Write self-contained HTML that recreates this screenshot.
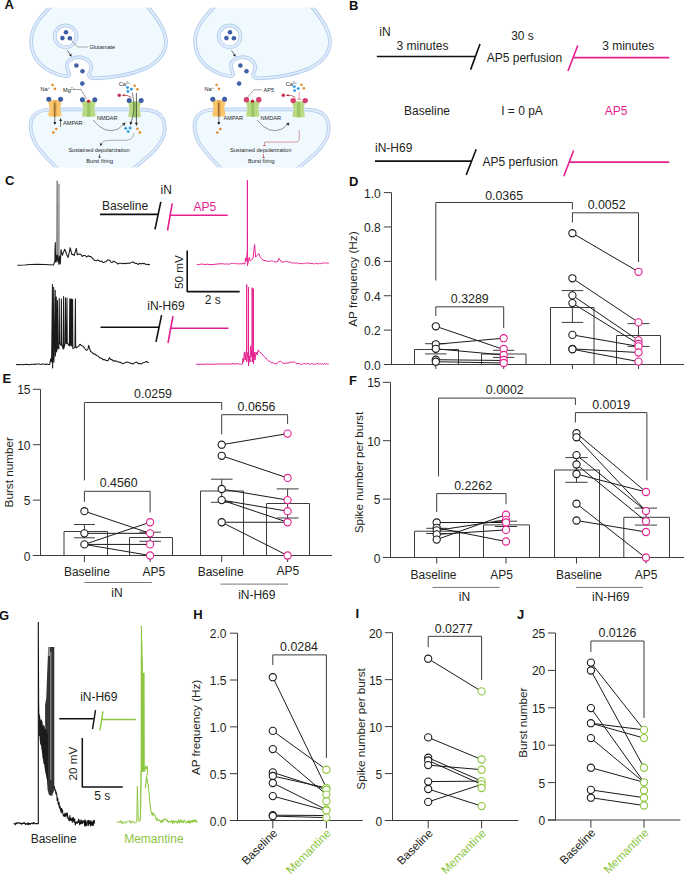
<!DOCTYPE html>
<html><head><meta charset="utf-8"><title>Figure</title>
<style>
html,body{margin:0;padding:0;background:#fff;width:685px;height:880px;overflow:hidden;}
svg{display:block;font-family:"Liberation Sans",sans-serif;}
</style></head><body>
<svg width="685" height="880" viewBox="0 0 685 880">
<text x="4.5" y="8.6" font-size="13" text-anchor="start" fill="#111" font-weight="bold">A</text>
<text x="348.9" y="10.4" font-size="13" text-anchor="start" fill="#111" font-weight="bold">B</text>
<text x="4.9" y="185.3" font-size="13" text-anchor="start" fill="#111" font-weight="bold">C</text>
<text x="349.1" y="185.6" font-size="13" text-anchor="start" fill="#111" font-weight="bold">D</text>
<text x="2.6" y="383.4" font-size="13" text-anchor="start" fill="#111" font-weight="bold">E</text>
<text x="349.1" y="384.9" font-size="13" text-anchor="start" fill="#111" font-weight="bold">F</text>
<text x="-1" y="619.7" font-size="13" text-anchor="start" fill="#111" font-weight="bold">G</text>
<text x="193.3" y="618.8" font-size="13" text-anchor="start" fill="#111" font-weight="bold">H</text>
<text x="355.5" y="618" font-size="13" text-anchor="start" fill="#111" font-weight="bold">I</text>
<text x="517" y="619.2" font-size="13" text-anchor="start" fill="#111" font-weight="bold">J</text>
<path d="M 59 -2 C 50 8, 31.5 22, 31.1 40 C 30.9 52, 37 62, 45 68 C 51 72, 58 75, 64.7 76 C 69 76.7, 70 75, 68.5 71.5 C 66 67, 66.5 62, 70.5 59.5 C 75 56.2, 83 56.2, 87.5 60 C 92 63.5, 92 69, 89.5 73 C 88 76, 89.5 78.3, 95 78.3 C 110 77.8, 130 75, 144 69 C 158 63, 166 53, 166 42 C 166 27, 151 11, 141 -2 Z" transform="translate(0,0)" fill="#f0f9fe" stroke="#b2cef0" stroke-width="3.7"/>
<path d="M 59 -2 C 50 8, 31.5 22, 31.1 40 C 30.9 52, 37 62, 45 68 C 51 72, 58 75, 64.7 76 C 69 76.7, 70 75, 68.5 71.5 C 66 67, 66.5 62, 70.5 59.5 C 75 56.2, 83 56.2, 87.5 60 C 92 63.5, 92 69, 89.5 73 C 88 76, 89.5 78.3, 95 78.3 C 110 77.8, 130 75, 144 69 C 158 63, 166 53, 166 42 C 166 27, 151 11, 141 -2 Z" transform="translate(0,0)" fill="none" stroke="#e2edf9" stroke-width="1.9"/>
<circle cx="65.6" cy="36.3" r="10.9" fill="#fff" stroke="#b2cef0" stroke-width="3.7"/>
<circle cx="65.6" cy="36.3" r="10.9" fill="none" stroke="#e2edf9" stroke-width="1.9"/>
<circle cx="66" cy="32.3" r="2.3" fill="#3e5ea6"/>
<circle cx="62.4" cy="38.1" r="2.3" fill="#3e5ea6"/>
<circle cx="69.9" cy="38.2" r="2.3" fill="#3e5ea6"/>
<circle cx="76.4" cy="65.5" r="2.3" fill="#4262a8"/>
<circle cx="82.5" cy="71.3" r="2.3" fill="#4262a8"/>
<circle cx="82.3" cy="83.6" r="2.3" fill="#4262a8"/>
<path d="M 67.5 50.5 L 70.5 55" stroke="#333" stroke-width="0.7"/>
<path d="M 69 55.8 L 71.8 56.5 L 71.2 53.6 Z" fill="#333"/>
<path d="M 60.5 172 C 52 163, 40 152, 35.5 143.5 C 31 135, 29.6 126, 31.3 120 C 33 115, 37 111.2, 45 110 C 52 109.4, 60 109.4, 70 109.4 L 135 109.4 C 148 109.4, 156 110.5, 160.5 115.5 C 164.5 120, 165 127, 164.6 131 C 164 140, 158 147, 151 153.8 C 145 159, 140 163, 130 172 Z" transform="translate(0,0)" fill="#f0f9fe" stroke="#b2cef0" stroke-width="3.7"/>
<path d="M 60.5 172 C 52 163, 40 152, 35.5 143.5 C 31 135, 29.6 126, 31.3 120 C 33 115, 37 111.2, 45 110 C 52 109.4, 60 109.4, 70 109.4 L 135 109.4 C 148 109.4, 156 110.5, 160.5 115.5 C 164.5 120, 165 127, 164.6 131 C 164 140, 158 147, 151 153.8 C 145 159, 140 163, 130 172 Z" transform="translate(0,0)" fill="none" stroke="#e2edf9" stroke-width="1.9"/>
<path d="M 59 -2 C 50 8, 31.5 22, 31.1 40 C 30.9 52, 37 62, 45 68 C 51 72, 58 75, 64.7 76 C 69 76.7, 70 75, 68.5 71.5 C 66 67, 66.5 62, 70.5 59.5 C 75 56.2, 83 56.2, 87.5 60 C 92 63.5, 92 69, 89.5 73 C 88 76, 89.5 78.3, 95 78.3 C 110 77.8, 130 75, 144 69 C 158 63, 166 53, 166 42 C 166 27, 151 11, 141 -2 Z" transform="translate(164,0)" fill="#f0f9fe" stroke="#b2cef0" stroke-width="3.7"/>
<path d="M 59 -2 C 50 8, 31.5 22, 31.1 40 C 30.9 52, 37 62, 45 68 C 51 72, 58 75, 64.7 76 C 69 76.7, 70 75, 68.5 71.5 C 66 67, 66.5 62, 70.5 59.5 C 75 56.2, 83 56.2, 87.5 60 C 92 63.5, 92 69, 89.5 73 C 88 76, 89.5 78.3, 95 78.3 C 110 77.8, 130 75, 144 69 C 158 63, 166 53, 166 42 C 166 27, 151 11, 141 -2 Z" transform="translate(164,0)" fill="none" stroke="#e2edf9" stroke-width="1.9"/>
<circle cx="229.6" cy="36.3" r="10.9" fill="#fff" stroke="#b2cef0" stroke-width="3.7"/>
<circle cx="229.6" cy="36.3" r="10.9" fill="none" stroke="#e2edf9" stroke-width="1.9"/>
<circle cx="230" cy="32.3" r="2.3" fill="#3e5ea6"/>
<circle cx="226.4" cy="38.1" r="2.3" fill="#3e5ea6"/>
<circle cx="233.9" cy="38.2" r="2.3" fill="#3e5ea6"/>
<circle cx="240.4" cy="65.5" r="2.3" fill="#4262a8"/>
<circle cx="246.5" cy="71.3" r="2.3" fill="#4262a8"/>
<circle cx="239.1" cy="83.6" r="2.3" fill="#4262a8"/>
<path d="M 231.5 50.5 L 234.5 55" stroke="#333" stroke-width="0.7"/>
<path d="M 233 55.8 L 235.8 56.5 L 235.2 53.6 Z" fill="#333"/>
<path d="M 60.5 172 C 52 163, 40 152, 35.5 143.5 C 31 135, 29.6 126, 31.3 120 C 33 115, 37 111.2, 45 110 C 52 109.4, 60 109.4, 70 109.4 L 135 109.4 C 148 109.4, 156 110.5, 160.5 115.5 C 164.5 120, 165 127, 164.6 131 C 164 140, 158 147, 151 153.8 C 145 159, 140 163, 130 172 Z" transform="translate(164,0)" fill="#f0f9fe" stroke="#b2cef0" stroke-width="3.7"/>
<path d="M 60.5 172 C 52 163, 40 152, 35.5 143.5 C 31 135, 29.6 126, 31.3 120 C 33 115, 37 111.2, 45 110 C 52 109.4, 60 109.4, 70 109.4 L 135 109.4 C 148 109.4, 156 110.5, 160.5 115.5 C 164.5 120, 165 127, 164.6 131 C 164 140, 158 147, 151 153.8 C 145 159, 140 163, 130 172 Z" transform="translate(164,0)" fill="none" stroke="#e2edf9" stroke-width="1.9"/>
<rect x="18" y="-1" width="322" height="8.6" fill="#fff"/>
<rect x="0" y="167.5" width="340" height="8" fill="#fff"/>
<path d="M 49.5 100.3 Q 48.3 100.3 48.3 102.3 L 49.7 108.4 L 48.3 114.5 Q 48.3 116.5 49.5 116.5 L 60.3 116.5 Q 61.5 116.5 61.5 114.5 L 60.1 108.4 L 61.5 102.3 Q 61.5 100.3 60.3 100.3 Z" fill="#f8c66c"/>
<rect x="53.2" y="100.3" width="3.4" height="16.2" fill="#eaa64a"/>
<path d="M 83.2 100.8 Q 82 100.8 82 102.8 L 83.4 108.8 L 82 114.8 Q 82 116.8 83.2 116.8 L 94.4 116.8 Q 95.6 116.8 95.6 114.8 L 94.2 108.8 L 95.6 102.8 Q 95.6 100.8 94.4 100.8 Z" fill="#bddb88"/>
<rect x="87" y="101.8" width="3.6" height="15" fill="#9cc765"/>
<rect x="84.6" y="102.8" width="0.6" height="12" fill="#a9d072"/>
<rect x="92.4" y="102.8" width="0.6" height="12" fill="#a9d072"/>
<path d="M 129.5 101.2 Q 128.3 101.2 128.3 103.2 L 129.7 109.2 L 128.3 115.2 Q 128.3 117.2 129.5 117.2 L 139.7 117.2 Q 140.9 117.2 140.9 115.2 L 139.5 109.2 L 140.9 103.2 Q 140.9 101.2 139.7 101.2 Z" fill="#bddb88"/>
<rect x="132.8" y="102.2" width="3.6" height="15" fill="#9cc765"/>
<rect x="130.4" y="103.2" width="0.6" height="12" fill="#a9d072"/>
<rect x="138.2" y="103.2" width="0.6" height="12" fill="#a9d072"/>
<circle cx="48.8" cy="99.3" r="2.5" fill="#3e5ea6"/>
<circle cx="60.6" cy="99.3" r="2.5" fill="#3e5ea6"/>
<circle cx="82.4" cy="99.8" r="2.5" fill="#3e5ea6"/>
<circle cx="94.8" cy="99.8" r="2.5" fill="#3e5ea6"/>
<circle cx="129.2" cy="100.6" r="2.5" fill="#3e5ea6"/>
<circle cx="141.2" cy="100.6" r="2.5" fill="#3e5ea6"/>
<circle cx="88.5" cy="101.2" r="1.6" fill="#c8203a"/>
<circle cx="52.6" cy="85" r="1.3" fill="#e08a2a"/>
<circle cx="54.9" cy="88.7" r="1.3" fill="#e08a2a"/>
<circle cx="127.5" cy="87.5" r="1.45" fill="#2f9ee0"/>
<circle cx="131.3" cy="89.3" r="1.45" fill="#2f9ee0"/>
<circle cx="127.9" cy="91.5" r="1.45" fill="#2f9ee0"/>
<circle cx="134.7" cy="85.7" r="1.3" fill="#e08a2a"/>
<circle cx="137.4" cy="89.3" r="1.3" fill="#e08a2a"/>
<circle cx="119.3" cy="95.3" r="2.3" fill="#f4c9cf"/>
<circle cx="119.3" cy="95.3" r="1.5" fill="#c0284a"/>
<path d="M 122.5 95.3 Q 127 94.5 131.5 97.5" stroke="#a02030" stroke-width="0.7" fill="none"/>
<path d="M 122.3 95.3 L 124.6 94 L 124.4 96.6 Z" fill="#a02030"/>
<text x="40.5" y="90.5" font-size="5.6" text-anchor="start" fill="#1e1e1e">Na<tspan font-size="3.5" dy="-2">+</tspan></text>
<text x="63" y="91.5" font-size="5.6" text-anchor="start" fill="#1e1e1e">Mg<tspan font-size="3.5" dy="-2">2+</tspan></text>
<path d="M 73 89.5 L 81 89.5 L 86.5 99" stroke="#444" stroke-width="0.5" fill="none"/>
<text x="118.8" y="85.8" font-size="5.6" text-anchor="start" fill="#1e1e1e">Ca<tspan font-size="3.5" dy="-2">2+</tspan></text>
<text x="63" y="124.9" font-size="5.6" text-anchor="start" fill="#1e1e1e">AMPAR</text>
<text x="97" y="120" font-size="5.6" text-anchor="start" fill="#1e1e1e">NMDAR</text>
<text x="68.4" y="152.2" font-size="5.6" text-anchor="start" fill="#1e1e1e">Sustained depolarization</text>
<text x="86.3" y="162.7" font-size="5.6" text-anchor="start" fill="#1e1e1e">Burst firing</text>
<path d="M 54.8 103 L 54.8 124" stroke="#222" stroke-width="0.6"/>
<path d="M 53.3 122 L 56.3 122 L 54.8 125 Z" fill="#222"/>
<circle cx="56.3" cy="129" r="1.3" fill="#e08a2a"/>
<circle cx="53.4" cy="132.5" r="1.3" fill="#e08a2a"/>
<path d="M 60.6 127 L 60.6 119.5" stroke="#222" stroke-width="0.6"/>
<path d="M 59.2 121 L 62 121 L 60.6 118.3 Z" fill="#222"/>
<path d="M 93 120 Q 105 135 118 129 L 124 124" stroke="#333" stroke-width="0.5" fill="none"/>
<path d="M 122 123.5 L 125.5 122.5 L 124.5 126 Z" fill="#333"/>
<path d="M 132.3 92.5 Q 134.5 102 133.8 110 Q 133 117 131.2 122.5" stroke="#333" stroke-width="0.6" fill="none"/>
<path d="M 136.4 93 L 136.4 123.5" stroke="#222" stroke-width="0.7"/>
<path d="M 129.6 121.6 L 132.6 122.8 L 130.3 125 Z" fill="#222"/>
<path d="M 134.9 122.8 L 137.9 122.8 L 136.4 126 Z" fill="#222"/>
<circle cx="125.7" cy="128.4" r="1.45" fill="#2f9ee0"/>
<circle cx="130.1" cy="128" r="1.45" fill="#2f9ee0"/>
<circle cx="128.2" cy="131.6" r="1.45" fill="#2f9ee0"/>
<circle cx="137.4" cy="128.7" r="1.3" fill="#e08a2a"/>
<circle cx="139.9" cy="132.4" r="1.3" fill="#e08a2a"/>
<path d="M 134 133 Q 133 140 126 140.3 L 110 140.3 Q 103 140.5 101.2 143.5" stroke="#666" stroke-width="0.5" fill="none"/>
<path d="M 99.6 143.2 L 102.6 143.8 L 100.6 146.2 Z" fill="#333"/>
<path d="M 99.5 154 L 99.5 157.5" stroke="#333" stroke-width="0.6"/>
<path d="M 98.2 156.5 L 100.8 156.5 L 99.5 158.5 Z" fill="#333"/>
<path d="M 213.5 100.3 Q 212.3 100.3 212.3 102.3 L 213.7 108.4 L 212.3 114.5 Q 212.3 116.5 213.5 116.5 L 224.3 116.5 Q 225.5 116.5 225.5 114.5 L 224.1 108.4 L 225.5 102.3 Q 225.5 100.3 224.3 100.3 Z" fill="#f8c66c"/>
<rect x="217.2" y="100.3" width="3.4" height="16.2" fill="#eaa64a"/>
<path d="M 247.2 100.8 Q 246 100.8 246 102.8 L 247.4 108.8 L 246 114.8 Q 246 116.8 247.2 116.8 L 258.4 116.8 Q 259.6 116.8 259.6 114.8 L 258.2 108.8 L 259.6 102.8 Q 259.6 100.8 258.4 100.8 Z" fill="#bddb88"/>
<rect x="251" y="101.8" width="3.6" height="15" fill="#9cc765"/>
<rect x="248.6" y="102.8" width="0.6" height="12" fill="#a9d072"/>
<rect x="256.4" y="102.8" width="0.6" height="12" fill="#a9d072"/>
<path d="M 293.5 101.2 Q 292.3 101.2 292.3 103.2 L 293.7 109.2 L 292.3 115.2 Q 292.3 117.2 293.5 117.2 L 303.7 117.2 Q 304.9 117.2 304.9 115.2 L 303.5 109.2 L 304.9 103.2 Q 304.9 101.2 303.7 101.2 Z" fill="#bddb88"/>
<rect x="296.8" y="102.2" width="3.6" height="15" fill="#9cc765"/>
<rect x="294.4" y="103.2" width="0.6" height="12" fill="#a9d072"/>
<rect x="302.2" y="103.2" width="0.6" height="12" fill="#a9d072"/>
<circle cx="212.8" cy="99.3" r="2.5" fill="#3e5ea6"/>
<circle cx="224.6" cy="99.3" r="2.5" fill="#3e5ea6"/>
<circle cx="246.4" cy="99.8" r="2.7" fill="#d6406f"/>
<circle cx="258.8" cy="99.8" r="2.7" fill="#d6406f"/>
<circle cx="293.2" cy="100.6" r="2.7" fill="#d6406f"/>
<circle cx="305.2" cy="100.6" r="2.7" fill="#d6406f"/>
<circle cx="252.5" cy="101.2" r="1.6" fill="#c8203a"/>
<circle cx="216.6" cy="85" r="1.3" fill="#e08a2a"/>
<circle cx="218.9" cy="88.7" r="1.3" fill="#e08a2a"/>
<circle cx="294.3" cy="86.6" r="1.45" fill="#2f9ee0"/>
<circle cx="298.2" cy="88.6" r="1.45" fill="#2f9ee0"/>
<circle cx="294.6" cy="90.6" r="1.45" fill="#2f9ee0"/>
<circle cx="301.4" cy="84.7" r="1.3" fill="#e08a2a"/>
<circle cx="303.9" cy="88.2" r="1.3" fill="#e08a2a"/>
<circle cx="283.3" cy="95.3" r="2.3" fill="#f4c9cf"/>
<circle cx="283.3" cy="95.3" r="1.5" fill="#c0284a"/>
<path d="M 286.5 95.3 Q 291 94.5 295.5 97.5" stroke="#a02030" stroke-width="0.7" fill="none"/>
<path d="M 286.3 95.3 L 288.6 94 L 288.4 96.6 Z" fill="#a02030"/>
<text x="204.5" y="90.5" font-size="5.6" text-anchor="start" fill="#1e1e1e">Na<tspan font-size="3.5" dy="-2">+</tspan></text>
<text x="263.5" y="91.8" font-size="5.6" text-anchor="start" fill="#1e1e1e">AP5</text>
<path d="M 262 89.8 L 254 89.8 L 246.5 98.5" stroke="#444" stroke-width="0.5" fill="none"/>
<text x="285.7" y="85.8" font-size="5.6" text-anchor="start" fill="#1e1e1e">Ca<tspan font-size="3.5" dy="-2">2+</tspan></text>
<text x="223.5" y="120" font-size="5.6" text-anchor="start" fill="#1e1e1e">AMPAR</text>
<text x="260.5" y="120" font-size="5.6" text-anchor="start" fill="#1e1e1e">NMDAR</text>
<text x="230" y="152.2" font-size="5.6" text-anchor="start" fill="#1e1e1e">Sustained depolarization</text>
<text x="248" y="162.7" font-size="5.6" text-anchor="start" fill="#1e1e1e">Burst firing</text>
<path d="M 218.8 103 L 218.8 124" stroke="#222" stroke-width="0.6"/>
<path d="M 217.3 122 L 220.3 122 L 218.8 125 Z" fill="#222"/>
<circle cx="220.3" cy="129" r="1.3" fill="#e08a2a"/>
<circle cx="217.4" cy="132.5" r="1.3" fill="#e08a2a"/>
<path d="M 257 120 Q 269 135 282 129 L 288 124" stroke="#333" stroke-width="0.5" fill="none"/>
<path d="M 286 123.5 L 289.5 122.5 L 288.5 126 Z" fill="#333"/>
<path d="M 299.2 91.9 L 299.2 99.2" stroke="#c04050" stroke-width="0.5"/>
<path d="M 297.2 99.2 L 301.2 99.2" stroke="#c04050" stroke-width="0.6"/>
<path d="M 299.3 130 L 299.3 138.5 Q 299.3 142.1 295 142.1 L 264.5 142.1 L 264.5 145.5" stroke="#c05060" stroke-width="0.55" fill="none"/>
<path d="M 263 145.5 L 266 145.5" stroke="#b0203a" stroke-width="0.6"/>
<path d="M 263.5 154 L 263.5 157.5 M 262 157.5 L 265 157.5" stroke="#b0203a" stroke-width="0.6"/>
<path d="M 70 38.5 L 77.5 47 L 88 47" stroke="#777" stroke-width="0.6" fill="none"/>
<text x="89.4" y="49" font-size="5.6" text-anchor="start" fill="#1e1e1e">Glutamate</text>
<text x="379.3" y="35.5" font-size="12" text-anchor="start" fill="#231f20">iN</text>
<text x="422.5" y="50" font-size="12" text-anchor="middle" fill="#231f20">3 minutes</text>
<line x1="376.8" y1="56.5" x2="475.3" y2="56.5" stroke="#111" stroke-width="1.7"/>
<line x1="480" y1="44" x2="470.6" y2="69.6" stroke="#111" stroke-width="1.6"/>
<text x="522.5" y="40" font-size="12" text-anchor="middle" fill="#231f20">30 s</text>
<text x="524.4" y="62.2" font-size="12" text-anchor="middle" fill="#231f20">AP5 perfusion</text>
<line x1="577.8" y1="45.5" x2="568" y2="71" stroke="#e61f8f" stroke-width="1.6"/>
<line x1="573" y1="57.6" x2="669.2" y2="57.6" stroke="#e61f8f" stroke-width="1.7"/>
<text x="628.2" y="50" font-size="12" text-anchor="middle" fill="#231f20">3 minutes</text>
<text x="427" y="115" font-size="12" text-anchor="middle" fill="#231f20">Baseline</text>
<text x="522" y="115" font-size="12" text-anchor="middle" fill="#231f20">I = 0 pA</text>
<text x="616" y="115" font-size="12" text-anchor="middle" fill="#e61f8f">AP5</text>
<text x="375" y="151.5" font-size="12" text-anchor="start" fill="#231f20">iN-H69</text>
<line x1="375" y1="161.2" x2="471.5" y2="161.2" stroke="#111" stroke-width="1.7"/>
<line x1="476.2" y1="149.3" x2="466.2" y2="175" stroke="#111" stroke-width="1.6"/>
<text x="520.3" y="166.2" font-size="12" text-anchor="middle" fill="#231f20">AP5 perfusion</text>
<line x1="573.6" y1="150.5" x2="563.8" y2="176.2" stroke="#e61f8f" stroke-width="1.6"/>
<line x1="568.8" y1="162.2" x2="669.2" y2="162.2" stroke="#e61f8f" stroke-width="1.7"/>
<text x="102.1" y="209.7" font-size="12" text-anchor="start" fill="#231f20">Baseline</text>
<line x1="100" y1="214.4" x2="158" y2="214.4" stroke="#111" stroke-width="1.6"/>
<line x1="160.8" y1="201.8" x2="155" y2="229.3" stroke="#111" stroke-width="1.6"/>
<text x="160.5" y="194.1" font-size="12" text-anchor="start" fill="#231f20">iN</text>
<line x1="172.2" y1="203.3" x2="167.5" y2="230.5" stroke="#e61f8f" stroke-width="1.6"/>
<line x1="169.8" y1="215.2" x2="227.7" y2="215.2" stroke="#e61f8f" stroke-width="1.6"/>
<text x="204.8" y="210.8" font-size="12" text-anchor="middle" fill="#e61f8f">AP5</text>
<text x="184.6" y="309.6" font-size="12" text-anchor="end" fill="#231f20">iN-H69</text>
<line x1="100.5" y1="327.2" x2="159" y2="327.2" stroke="#111" stroke-width="1.6"/>
<line x1="161.6" y1="315.2" x2="156" y2="341.8" stroke="#111" stroke-width="1.6"/>
<line x1="173" y1="316" x2="168" y2="343" stroke="#e61f8f" stroke-width="1.6"/>
<line x1="170.5" y1="328.3" x2="228.5" y2="328.3" stroke="#e61f8f" stroke-width="1.6"/>
<polyline points="187.2,250.4 187.2,291.6 239.7,291.6" fill="none" stroke="#111" stroke-width="1.6" stroke-linejoin="round"/>
<text x="212.8" y="304.2" font-size="12" text-anchor="middle" fill="#231f20">2 s</text>
<text transform="translate(182.5,272.2) rotate(-90)" font-size="11.7" text-anchor="middle" fill="#231f20">50 mV</text>
<polygon points="56.2,258 56.5,180.2 57.9,181 57.9,262" fill="#7a7a7a"/>
<polygon points="58.2,262 58.4,183.4 59.6,184 59.5,264" fill="#7a7a7a"/>
<polyline points="17.4,265.2 25,265 30,264.6 37.5,264.2 45,264.6 53.4,265 54.9,261 55,250 55.3,242.5 55.6,262 56.3,255 57,262 57.6,255 58.3,258 58.9,264.5 59.6,256 60.3,264 61,249.7 62.4,255.4 63.55,252.14 64.7,249.3 65.6,251.23 66.5,254 68.1,257.5 69.15,252.78 70.2,247.7 71.8,254.4 72.63,254.22 73.47,255.11 74.3,255.4 75.3,251.69 76.3,248.3 77.3,254.8 78.2,254 79.1,254.28 80,254 80.8,254.28 81.6,255.59 82.4,256.5 83.45,255.48 84.5,255.5 85.5,255.76 86.5,257 87.5,256.31 88.5,255.8 89.55,256.54 90.6,256.5 91.55,257.05 92.5,258.5 93.6,259.17 94.7,260.5 95.63,260.49 96.57,260.7 97.5,260 98.33,260.39 99.15,260.48 99.97,261.47 100.8,261.2 101.83,261.12 102.87,262.56 103.9,262.6 104.95,261.8 106,261.5 107,260.57 108,260.04 109,260 110,260.64 111,262.11 112,262.6 113.05,261.52 114.1,261.2 114.92,261.86 115.74,262.49 116.56,262.73 117.38,263.5 118.2,264 119.15,263.35 120.1,263.22 121.05,263.27 122,263.5 122.85,263.74 123.7,263.46 124.55,263.35 125.4,263.6 126.3,263.6 127.2,263.34 128.1,263.06 129,263.2 129.82,263.31 130.64,262.96 131.46,262.17 132.28,262.33 133.1,262 134,262.43 134.9,263.25 135.8,263.48 136.7,263.35 137.6,264 138.48,264.48 139.36,263.34 140.24,263.6 141.12,263.91 142,263.5 142.8,263.22 143.6,263.77 144.4,263.37 145.2,264.26 146,264.2 146.97,264.52 147.95,264.29 148.93,264.65 149.9,264.2" fill="none" stroke="#1a1a1a" stroke-width="1.05" stroke-linejoin="round"/>
<polyline points="16,364.6 17,364.46 18,364.71 19,364.62 20,364.6 21,364.5 22,364.75 23,364.81 24,364.47 25,364.59 26,364.15 27,364.58 28,364.53 29,364.76 30,364.4 31,364.61 32,364.21 33,364.26 34,364.44 35,363.97 36,364.25 37,364.03 38,363.97 39,363.91 40,364.2 41.08,364.41 42.16,363.98 43.23,364.09 44.31,364.21 45.39,364.57 46.47,364.04 47.54,364.32 48.62,364.41 49.7,364.4 50.8,358.7 51.6,362 52.3,300 52.4,284.6 52.6,367.9 53.2,345 53.6,300 53.7,287.2 53.9,362 54.6,340 55.1,310 55.2,290.2 55.4,356 56,335 56.2,310 56.3,296.9 56.5,352 57.05,349.07 57.5,300.5 57.75,347.55 58.85,348.91 59.3,298.4 59.55,343.23 60.95,345.32 61.4,298.9 61.65,343.87 63.15,349.07 63.6,296.4 63.85,348.66 65.05,343.21 65.5,297.9 65.75,342.41 66.55,343.86 67,297.9 67.25,342.87 69.35,345.88 69.8,298.9 70.05,345.71 70.35,344.1 70.8,299 71.05,341.03 71.35,345.35 71.8,298.9 72.05,343.95 72.15,346.53 72.6,299.5 72.85,348.62 74.95,347.52 75.4,298.9 75.65,345.12 76.2,348 77.1,347.39 78,346.5 78.8,346.01 79.6,344.56 80.4,344.4 81.43,345.55 82.47,346.07 83.5,346.4 84.5,348.22 85.5,349.49 86.5,350.5 88,349 88.6,345.4 89.6,348.32 90.6,351.5 91.4,352.05 92.2,352.36 93,353.5 93.92,354.19 94.85,354.02 95.78,354.56 96.7,355.6 97.53,355.85 98.35,356.39 99.17,357.21 100,358 100.97,358.03 101.93,358.53 102.9,359.7 103.93,359.55 104.97,359.76 106,360.5 107,360.44 108,360.7 109.4,357.7 111,359.7 112,359.5 113,360.88 114,360.8 114.8,361.16 115.6,360.83 116.4,361.18 117.2,361.7 118.13,361.78 119.07,362.07 120,362.5 120.83,362.27 121.65,363.37 122.47,363.77 123.3,363.4 124.2,363.06 125.1,362.78 126,362.5 126.85,362.08 127.7,362.17 128.55,362.54 129.4,362.8 131,363.5 131.83,363.32 132.67,364.09 133.5,363.8 134.5,362.74 135.5,362.5 136.55,362.08 137.6,362.8 138.55,363.69 139.5,363.5 140.6,363.68 141.7,363.8 142.85,362.73 144,362.5 144.9,362.15 145.8,361.7 146.83,361.5 147.87,362.47 148.9,362.8" fill="none" stroke="#1a1a1a" stroke-width="1.05" stroke-linejoin="round"/>
<polyline points="196.8,264.2 197.82,264.55 198.83,264.49 199.85,264.38 200.86,264.09 201.88,264.18 202.89,264.06 203.91,264.5 204.92,264.35 205.94,264.53 206.95,264.23 207.97,264.18 208.98,264.6 210,264.4 211,264.7 212,264.57 213,264.49 214,264.46 215,264.37 216,263.97 217,264.13 218,263.98 219,263.71 220,264 221.04,263.64 222.07,263.8 223.11,263.76 224.15,264.03 225.19,264.19 226.22,263.81 227.26,264.13 228.3,264.14 229.34,264.09 230.38,263.66 231.41,263.53 232.45,263.51 233.49,263.46 234.53,263.44 235.56,263.71 236.6,263.6 237.65,263.91 238.7,263.89 239.75,263.66 240.8,263.81 241.85,263.93 242.9,263.46 243.95,263.89 245,263.8 245.5,257.9 246.5,261 247.35,250 247.4,180.3 247.45,265.7 249.3,257.2 250.2,261 251.4,260 253,258 254.6,244.5 255.6,257.2 257,255.5 258.8,253.6 260.5,257.5 262,259.3 263,260.11 264,260.38 265,260.5 265.82,261 266.65,260.98 267.48,260.93 268.3,261.5 269.4,261.54 270.5,261 271.55,260.73 272.6,260.8 273.8,261.6 275,261.8 275.93,262.17 276.87,261.5 277.8,261.5 278.9,258.3 279.95,259.8 281,261.5 282,262.11 283,262.06 284,262 284.85,261.55 285.7,261.38 286.55,261.28 287.4,261.5 288.3,262.15 289.2,262.31 290.1,261.9 291,262.5 291.8,262.94 292.6,263.21 293.4,263.01 294.2,262.82 295,263.13 295.8,263.2 296.64,262.89 297.48,262.83 298.32,263.85 299.16,263.59 300,263.5 300.91,263.48 301.83,263.85 302.74,263.31 303.66,263.7 304.57,263.61 305.49,262.95 306.4,263.2 307.32,263.03 308.24,263.15 309.16,263.18 310.08,263.61 311,263.6 311.86,263.36 312.71,263.52 313.57,263.23 314.43,264.01 315.29,263.45 316.14,263.56 317,263.6 317.83,263.62 318.67,263.87 319.5,263.32 320.33,263.75 321.17,263.27 322,263.2 322.84,263.23 323.68,263.22 324.51,262.72 325.35,263.14 326.19,262.88 327.02,262.7 327.86,263.5 328.7,263.2" fill="none" stroke="#e61f8f" stroke-width="1.0" stroke-linejoin="round"/>
<polyline points="195.9,364.3 196.91,364.06 197.91,364.27 198.92,364.44 199.93,364.31 200.94,364.14 201.94,364.27 202.95,364.29 203.96,364.44 204.96,363.96 205.97,364.27 206.98,364.05 207.99,364.06 208.99,364.4 210,364.2 211,364.18 212,364.19 213,364.3 214,364.38 215,364.03 216,364.12 217,364.02 218,364 219,364.09 220,363.9 221,363.93 222,363.86 223,364.16 224,363.97 225,363.8 226,364.08 227,364.15 228,363.69 229,363.92 230,364.21 231,364.16 232,363.69 233,363.7 234,363.94 235,364 236.07,363.7 237.14,363.82 238.21,363.7 239.29,364.12 240.36,364.2 241.43,364.28 242.5,364 242.9,358.3 243.6,362 244.4,352 245.2,360 246,352 246.65,350 246.7,284.6 246.75,362 247.3,356 248,352 248.45,355 248.5,287.2 248.55,366 249.3,356 250,362 250.6,346 251.3,357 252.15,343 252.2,287.7 252.25,362 252.8,352 253.35,350 253.4,288.7 253.45,364 254.2,352 255,360 256,352 257,355 258.2,349.9 259.5,352 261,353 262.03,353.72 263.07,355.35 264.1,356.2 265.07,357.46 266.03,358.04 267,359.5 267.85,360.53 268.7,361.27 269.55,361.17 270.4,362.1 271.27,362.85 272.13,362.6 273,363 273.9,363.19 274.8,363.89 275.7,363.6 276.85,363.38 278,362.5 278.87,361.69 279.73,361.5 280.6,361.1 282,362.5 283.1,363.07 284.2,363.6 285.15,363.29 286.1,363 287.05,362.97 288,363 289,362.96 290,361.99 291,362.2 291.9,362.22 292.8,362.07 293.7,362.1 294.52,361.97 295.35,362.63 296.18,363.27 297,363.5 298,363.68 299,363.4 300,364 300.8,364.47 301.6,364.25 302.4,364.41 303.2,363.52 304,363.67 304.8,363.42 305.6,364.14 306.4,363.61 307.2,363.45 308,363.8 308.88,363.75 309.75,364.26 310.62,364.19 311.5,363.66 312.38,363.57 313.25,364.37 314.12,364.05 315,364 315.88,364.18 316.75,363.54 317.62,363.48 318.5,364.09 319.38,363.8 320.25,363.42 321.12,364.26 322,363.8 322.84,363.96 323.68,364.15 324.51,363.46 325.35,364.26 326.19,363.49 327.02,364.31 327.86,363.93 328.7,364" fill="none" stroke="#e61f8f" stroke-width="1.0" stroke-linejoin="round"/>
<line x1="391.5" y1="365" x2="391.5" y2="192.6" stroke="#3d3d3d" stroke-width="1"/>
<line x1="383.9" y1="364.5" x2="391.5" y2="364.5" stroke="#3d3d3d" stroke-width="1"/>
<text x="380.8" y="369.5" font-size="12" text-anchor="end" fill="#231f20">0.0</text>
<line x1="383.9" y1="330.12" x2="391.5" y2="330.12" stroke="#3d3d3d" stroke-width="1"/>
<text x="380.8" y="335.12" font-size="12" text-anchor="end" fill="#231f20">0.2</text>
<line x1="383.9" y1="295.74" x2="391.5" y2="295.74" stroke="#3d3d3d" stroke-width="1"/>
<text x="380.8" y="300.74" font-size="12" text-anchor="end" fill="#231f20">0.4</text>
<line x1="383.9" y1="261.36" x2="391.5" y2="261.36" stroke="#3d3d3d" stroke-width="1"/>
<text x="380.8" y="266.36" font-size="12" text-anchor="end" fill="#231f20">0.6</text>
<line x1="383.9" y1="226.98" x2="391.5" y2="226.98" stroke="#3d3d3d" stroke-width="1"/>
<text x="380.8" y="231.98" font-size="12" text-anchor="end" fill="#231f20">0.8</text>
<line x1="383.9" y1="192.6" x2="391.5" y2="192.6" stroke="#3d3d3d" stroke-width="1"/>
<text x="380.8" y="197.6" font-size="12" text-anchor="end" fill="#231f20">1.0</text>
<line x1="383.9" y1="364.5" x2="684" y2="364.5" stroke="#3d3d3d" stroke-width="1"/>
<path d="M 414.5 364.5 L 414.5 349.5 L 458.5 349.5 L 458.5 364.5" fill="none" stroke="#3d3d3d" stroke-width="1"/>
<path d="M 481.5 364.5 L 481.5 354 L 526 354 L 526 364.5" fill="none" stroke="#3d3d3d" stroke-width="1"/>
<path d="M 550.5 364.5 L 550.5 307.5 L 594 307.5 L 594 364.5" fill="none" stroke="#3d3d3d" stroke-width="1"/>
<path d="M 616.5 364.5 L 616.5 335.5 L 660.5 335.5 L 660.5 364.5" fill="none" stroke="#3d3d3d" stroke-width="1"/>
<line x1="435.8" y1="364.5" x2="435.8" y2="369" stroke="#3d3d3d" stroke-width="1"/>
<line x1="503.7" y1="364.5" x2="503.7" y2="369" stroke="#3d3d3d" stroke-width="1"/>
<line x1="572.4" y1="364.5" x2="572.4" y2="369" stroke="#3d3d3d" stroke-width="1"/>
<line x1="638.5" y1="364.5" x2="638.5" y2="369" stroke="#3d3d3d" stroke-width="1"/>
<line x1="435.8" y1="343.7" x2="435.8" y2="353.9" stroke="#3d3d3d" stroke-width="1"/>
<line x1="425.1" y1="343.7" x2="446.5" y2="343.7" stroke="#3d3d3d" stroke-width="1"/>
<line x1="425.1" y1="353.9" x2="446.5" y2="353.9" stroke="#3d3d3d" stroke-width="1"/>
<line x1="503.7" y1="350.3" x2="503.7" y2="357.4" stroke="#3d3d3d" stroke-width="1"/>
<line x1="493" y1="350.3" x2="514.4" y2="350.3" stroke="#3d3d3d" stroke-width="1"/>
<line x1="493" y1="357.4" x2="514.4" y2="357.4" stroke="#3d3d3d" stroke-width="1"/>
<line x1="572.4" y1="290.6" x2="572.4" y2="322.4" stroke="#3d3d3d" stroke-width="1"/>
<line x1="561.6" y1="290.6" x2="583.2" y2="290.6" stroke="#3d3d3d" stroke-width="1"/>
<line x1="561.6" y1="322.4" x2="583.2" y2="322.4" stroke="#3d3d3d" stroke-width="1"/>
<line x1="638.5" y1="323.6" x2="638.5" y2="346.4" stroke="#3d3d3d" stroke-width="1"/>
<line x1="627.5" y1="323.6" x2="649.5" y2="323.6" stroke="#3d3d3d" stroke-width="1"/>
<line x1="627.5" y1="346.4" x2="649.5" y2="346.4" stroke="#3d3d3d" stroke-width="1"/>
<line x1="435.8" y1="326.3" x2="503.7" y2="349.5" stroke="#1a1a1a" stroke-width="1.0"/>
<line x1="435.8" y1="344.3" x2="503.7" y2="338.2" stroke="#1a1a1a" stroke-width="1.0"/>
<line x1="435.8" y1="348.8" x2="503.7" y2="355" stroke="#1a1a1a" stroke-width="1.0"/>
<line x1="435.8" y1="359.7" x2="503.7" y2="360.5" stroke="#1a1a1a" stroke-width="1.0"/>
<line x1="435.8" y1="361.7" x2="503.7" y2="363" stroke="#1a1a1a" stroke-width="1.0"/>
<circle cx="435.8" cy="326.3" r="3.6" fill="#fff" stroke="#1a1a1a" stroke-width="1.1"/>
<circle cx="435.8" cy="344.3" r="3.6" fill="#fff" stroke="#1a1a1a" stroke-width="1.1"/>
<circle cx="435.8" cy="348.8" r="3.6" fill="#fff" stroke="#1a1a1a" stroke-width="1.1"/>
<circle cx="435.8" cy="359.7" r="3.6" fill="#fff" stroke="#1a1a1a" stroke-width="1.1"/>
<circle cx="435.8" cy="361.7" r="3.6" fill="#fff" stroke="#1a1a1a" stroke-width="1.1"/>
<circle cx="503.7" cy="338.2" r="3.6" fill="#fff" stroke="#e61f8f" stroke-width="1.1"/>
<circle cx="503.7" cy="349" r="3.6" fill="#fff" stroke="#e61f8f" stroke-width="1.1"/>
<circle cx="503.7" cy="355" r="3.6" fill="#fff" stroke="#e61f8f" stroke-width="1.1"/>
<circle cx="503.7" cy="360" r="3.6" fill="#fff" stroke="#e61f8f" stroke-width="1.1"/>
<circle cx="503.7" cy="363" r="3.6" fill="#fff" stroke="#e61f8f" stroke-width="1.1"/>
<line x1="572.4" y1="233.2" x2="638.5" y2="271.8" stroke="#1a1a1a" stroke-width="1.0"/>
<line x1="572.4" y1="278.3" x2="638.5" y2="322.4" stroke="#1a1a1a" stroke-width="1.0"/>
<line x1="572.4" y1="295.4" x2="638.5" y2="340.4" stroke="#1a1a1a" stroke-width="1.0"/>
<line x1="572.4" y1="303.1" x2="638.5" y2="344" stroke="#1a1a1a" stroke-width="1.0"/>
<line x1="572.4" y1="334.9" x2="638.5" y2="346.4" stroke="#1a1a1a" stroke-width="1.0"/>
<line x1="572.4" y1="348.9" x2="638.5" y2="352.5" stroke="#1a1a1a" stroke-width="1.0"/>
<line x1="572.4" y1="349.3" x2="638.5" y2="361.6" stroke="#1a1a1a" stroke-width="1.0"/>
<circle cx="572.4" cy="233.2" r="3.6" fill="#fff" stroke="#1a1a1a" stroke-width="1.1"/>
<circle cx="572.4" cy="278.3" r="3.6" fill="#fff" stroke="#1a1a1a" stroke-width="1.1"/>
<circle cx="572.4" cy="295.4" r="3.6" fill="#fff" stroke="#1a1a1a" stroke-width="1.1"/>
<circle cx="572.4" cy="303.1" r="3.6" fill="#fff" stroke="#1a1a1a" stroke-width="1.1"/>
<circle cx="572.4" cy="334.9" r="3.6" fill="#fff" stroke="#1a1a1a" stroke-width="1.1"/>
<circle cx="572.4" cy="348.9" r="3.6" fill="#fff" stroke="#1a1a1a" stroke-width="1.1"/>
<circle cx="572.4" cy="349.3" r="3.6" fill="#fff" stroke="#1a1a1a" stroke-width="1.1"/>
<circle cx="638.5" cy="271.8" r="3.6" fill="#fff" stroke="#e61f8f" stroke-width="1.1"/>
<circle cx="638.5" cy="322.4" r="3.6" fill="#fff" stroke="#e61f8f" stroke-width="1.1"/>
<circle cx="638.5" cy="340.4" r="3.6" fill="#fff" stroke="#e61f8f" stroke-width="1.1"/>
<circle cx="638.5" cy="344" r="3.6" fill="#fff" stroke="#e61f8f" stroke-width="1.1"/>
<circle cx="638.5" cy="346.4" r="3.6" fill="#fff" stroke="#e61f8f" stroke-width="1.1"/>
<circle cx="638.5" cy="352.5" r="3.6" fill="#fff" stroke="#e61f8f" stroke-width="1.1"/>
<circle cx="638.5" cy="361.6" r="3.6" fill="#fff" stroke="#e61f8f" stroke-width="1.1"/>
<polyline points="435.8,280.5 435.8,202.5 572.4,202.5 572.4,209.4" fill="none" stroke="#3d3d3d" stroke-width="1" stroke-linejoin="round"/>
<text x="504.1" y="199.7" font-size="12.4" text-anchor="middle" fill="#231f20">0.0365</text>
<polyline points="572.4,222.5 572.4,212.8 638.5,212.8 638.5,262" fill="none" stroke="#3d3d3d" stroke-width="1" stroke-linejoin="round"/>
<text x="606.6" y="209.4" font-size="12.4" text-anchor="middle" fill="#231f20">0.0052</text>
<polyline points="435.8,316 435.8,306.8 503.7,306.8 503.7,328" fill="none" stroke="#3d3d3d" stroke-width="1" stroke-linejoin="round"/>
<text x="469.75" y="303.4" font-size="12.4" text-anchor="middle" fill="#231f20">0.3289</text>
<text transform="translate(357,279.1) rotate(-90)" font-size="11.7" text-anchor="middle" fill="#231f20">AP frequency (Hz)</text>
<line x1="40.5" y1="556" x2="40.5" y2="389.3" stroke="#3d3d3d" stroke-width="1"/>
<line x1="32.9" y1="555.5" x2="40.5" y2="555.5" stroke="#3d3d3d" stroke-width="1"/>
<text x="30.5" y="560.5" font-size="12" text-anchor="end" fill="#231f20">0</text>
<line x1="32.9" y1="500.1" x2="40.5" y2="500.1" stroke="#3d3d3d" stroke-width="1"/>
<text x="30.5" y="505.1" font-size="12" text-anchor="end" fill="#231f20">5</text>
<line x1="32.9" y1="444.7" x2="40.5" y2="444.7" stroke="#3d3d3d" stroke-width="1"/>
<text x="30.5" y="449.7" font-size="12" text-anchor="end" fill="#231f20">10</text>
<line x1="32.9" y1="389.3" x2="40.5" y2="389.3" stroke="#3d3d3d" stroke-width="1"/>
<text x="30.5" y="394.3" font-size="12" text-anchor="end" fill="#231f20">15</text>
<line x1="32.9" y1="555.5" x2="332" y2="555.5" stroke="#3d3d3d" stroke-width="1"/>
<path d="M 64 555.5 L 64 531.5 L 107.5 531.5 L 107.5 555.5" fill="none" stroke="#3d3d3d" stroke-width="1"/>
<path d="M 129.5 555.5 L 129.5 537.5 L 172.5 537.5 L 172.5 555.5" fill="none" stroke="#3d3d3d" stroke-width="1"/>
<path d="M 200.5 555.5 L 200.5 491 L 243.5 491 L 243.5 555.5" fill="none" stroke="#3d3d3d" stroke-width="1"/>
<path d="M 266.5 555.5 L 266.5 503.5 L 309.5 503.5 L 309.5 555.5" fill="none" stroke="#3d3d3d" stroke-width="1"/>
<line x1="84.4" y1="555.5" x2="84.4" y2="562" stroke="#3d3d3d" stroke-width="1"/>
<line x1="150.1" y1="555.5" x2="150.1" y2="562" stroke="#3d3d3d" stroke-width="1"/>
<line x1="221.7" y1="555.5" x2="221.7" y2="562" stroke="#3d3d3d" stroke-width="1"/>
<line x1="287.6" y1="555.5" x2="287.6" y2="562" stroke="#3d3d3d" stroke-width="1"/>
<line x1="84.4" y1="524.5" x2="84.4" y2="537.8" stroke="#3d3d3d" stroke-width="1"/>
<line x1="73.9" y1="524.5" x2="94.9" y2="524.5" stroke="#3d3d3d" stroke-width="1"/>
<line x1="73.9" y1="537.8" x2="94.9" y2="537.8" stroke="#3d3d3d" stroke-width="1"/>
<line x1="150.1" y1="532.2" x2="150.1" y2="541.3" stroke="#3d3d3d" stroke-width="1"/>
<line x1="139.3" y1="532.2" x2="160.9" y2="532.2" stroke="#3d3d3d" stroke-width="1"/>
<line x1="139.3" y1="541.3" x2="160.9" y2="541.3" stroke="#3d3d3d" stroke-width="1"/>
<line x1="221.7" y1="479.2" x2="221.7" y2="502.3" stroke="#3d3d3d" stroke-width="1"/>
<line x1="210.9" y1="479.2" x2="232.5" y2="479.2" stroke="#3d3d3d" stroke-width="1"/>
<line x1="210.9" y1="502.3" x2="232.5" y2="502.3" stroke="#3d3d3d" stroke-width="1"/>
<line x1="287.6" y1="488.9" x2="287.6" y2="518" stroke="#3d3d3d" stroke-width="1"/>
<line x1="276.7" y1="488.9" x2="298.5" y2="488.9" stroke="#3d3d3d" stroke-width="1"/>
<line x1="276.7" y1="518" x2="298.5" y2="518" stroke="#3d3d3d" stroke-width="1"/>
<line x1="84.4" y1="511.18" x2="150.1" y2="533.34" stroke="#1a1a1a" stroke-width="1.0"/>
<line x1="84.4" y1="533.34" x2="150.1" y2="533.34" stroke="#1a1a1a" stroke-width="1.0"/>
<line x1="84.4" y1="544.42" x2="150.1" y2="522.26" stroke="#1a1a1a" stroke-width="1.0"/>
<line x1="84.4" y1="544.42" x2="150.1" y2="544.42" stroke="#1a1a1a" stroke-width="1.0"/>
<line x1="84.4" y1="544.42" x2="150.1" y2="555.5" stroke="#1a1a1a" stroke-width="1.0"/>
<circle cx="84.4" cy="511.18" r="3.6" fill="#fff" stroke="#1a1a1a" stroke-width="1.1"/>
<circle cx="84.4" cy="533.34" r="3.6" fill="#fff" stroke="#1a1a1a" stroke-width="1.1"/>
<circle cx="84.4" cy="544.42" r="3.6" fill="#fff" stroke="#1a1a1a" stroke-width="1.1"/>
<circle cx="150.1" cy="522.26" r="3.6" fill="#fff" stroke="#e61f8f" stroke-width="1.1"/>
<circle cx="150.1" cy="533.34" r="3.6" fill="#fff" stroke="#e61f8f" stroke-width="1.1"/>
<circle cx="150.1" cy="544.42" r="3.6" fill="#fff" stroke="#e61f8f" stroke-width="1.1"/>
<circle cx="150.1" cy="555.5" r="3.6" fill="#fff" stroke="#e61f8f" stroke-width="1.1"/>
<line x1="221.7" y1="444.7" x2="287.6" y2="433.62" stroke="#1a1a1a" stroke-width="1.0"/>
<line x1="221.7" y1="455.78" x2="287.6" y2="477.94" stroke="#1a1a1a" stroke-width="1.0"/>
<line x1="221.7" y1="489.02" x2="287.6" y2="500.1" stroke="#1a1a1a" stroke-width="1.0"/>
<line x1="221.7" y1="500.1" x2="287.6" y2="511.18" stroke="#1a1a1a" stroke-width="1.0"/>
<line x1="221.7" y1="500.1" x2="287.6" y2="522.26" stroke="#1a1a1a" stroke-width="1.0"/>
<line x1="221.7" y1="522.26" x2="287.6" y2="522.26" stroke="#1a1a1a" stroke-width="1.0"/>
<line x1="221.7" y1="522.26" x2="287.6" y2="555.5" stroke="#1a1a1a" stroke-width="1.0"/>
<circle cx="221.7" cy="444.7" r="3.6" fill="#fff" stroke="#1a1a1a" stroke-width="1.1"/>
<circle cx="221.7" cy="455.78" r="3.6" fill="#fff" stroke="#1a1a1a" stroke-width="1.1"/>
<circle cx="221.7" cy="489.02" r="3.6" fill="#fff" stroke="#1a1a1a" stroke-width="1.1"/>
<circle cx="221.7" cy="500.1" r="3.6" fill="#fff" stroke="#1a1a1a" stroke-width="1.1"/>
<circle cx="221.7" cy="522.26" r="3.6" fill="#fff" stroke="#1a1a1a" stroke-width="1.1"/>
<circle cx="287.6" cy="433.62" r="3.6" fill="#fff" stroke="#e61f8f" stroke-width="1.1"/>
<circle cx="287.6" cy="477.94" r="3.6" fill="#fff" stroke="#e61f8f" stroke-width="1.1"/>
<circle cx="287.6" cy="500.1" r="3.6" fill="#fff" stroke="#e61f8f" stroke-width="1.1"/>
<circle cx="287.6" cy="511.18" r="3.6" fill="#fff" stroke="#e61f8f" stroke-width="1.1"/>
<circle cx="287.6" cy="522.26" r="3.6" fill="#fff" stroke="#e61f8f" stroke-width="1.1"/>
<circle cx="287.6" cy="555.5" r="3.6" fill="#fff" stroke="#e61f8f" stroke-width="1.1"/>
<polyline points="84.4,480.4 84.4,402.5 221.7,402.5 221.7,410" fill="none" stroke="#3d3d3d" stroke-width="1" stroke-linejoin="round"/>
<text x="153.05" y="398.3" font-size="12.4" text-anchor="middle" fill="#231f20">0.0259</text>
<polyline points="221.7,434.4 221.7,414.7 287.6,414.7 287.6,423.9" fill="none" stroke="#3d3d3d" stroke-width="1" stroke-linejoin="round"/>
<text x="256.5" y="410.7" font-size="12.4" text-anchor="middle" fill="#231f20">0.0656</text>
<polyline points="84.4,501.9 84.4,491.3 150.1,491.3 150.1,512.4" fill="none" stroke="#3d3d3d" stroke-width="1" stroke-linejoin="round"/>
<text x="118.7" y="487.4" font-size="12.4" text-anchor="middle" fill="#231f20">0.4560</text>
<text x="86.9" y="575.6" font-size="12" text-anchor="middle" fill="#231f20">Baseline</text>
<text x="153.9" y="575.6" font-size="12" text-anchor="middle" fill="#231f20">AP5</text>
<text x="220.7" y="576.3" font-size="12" text-anchor="middle" fill="#231f20">Baseline</text>
<text x="287.8" y="575.3" font-size="12" text-anchor="middle" fill="#231f20">AP5</text>
<line x1="84.4" y1="582.5" x2="151.9" y2="582.5" stroke="#777" stroke-width="1"/>
<line x1="220.4" y1="584.1" x2="288" y2="584.1" stroke="#777" stroke-width="1"/>
<text x="116.9" y="597.4" font-size="12" text-anchor="middle" fill="#231f20">iN</text>
<text x="256.8" y="598.6" font-size="12" text-anchor="middle" fill="#231f20">iN-H69</text>
<text transform="translate(13.2,472.3) rotate(-90)" font-size="11.7" text-anchor="middle" fill="#231f20">Burst number</text>
<line x1="390.5" y1="558" x2="390.5" y2="382.3" stroke="#3d3d3d" stroke-width="1"/>
<line x1="382.9" y1="557.5" x2="390.5" y2="557.5" stroke="#3d3d3d" stroke-width="1"/>
<text x="380.5" y="562.5" font-size="12" text-anchor="end" fill="#231f20">0</text>
<line x1="382.9" y1="499.1" x2="390.5" y2="499.1" stroke="#3d3d3d" stroke-width="1"/>
<text x="380.5" y="504.1" font-size="12" text-anchor="end" fill="#231f20">5</text>
<line x1="382.9" y1="440.7" x2="390.5" y2="440.7" stroke="#3d3d3d" stroke-width="1"/>
<text x="380.5" y="445.7" font-size="12" text-anchor="end" fill="#231f20">10</text>
<line x1="382.9" y1="382.3" x2="390.5" y2="382.3" stroke="#3d3d3d" stroke-width="1"/>
<text x="380.5" y="387.3" font-size="12" text-anchor="end" fill="#231f20">15</text>
<line x1="382.9" y1="557.5" x2="684" y2="557.5" stroke="#3d3d3d" stroke-width="1"/>
<path d="M 414.5 557.5 L 414.5 531.2 L 459.5 531.2 L 459.5 557.5" fill="none" stroke="#3d3d3d" stroke-width="1"/>
<path d="M 483.5 557.5 L 483.5 524.9 L 529.5 524.9 L 529.5 557.5" fill="none" stroke="#3d3d3d" stroke-width="1"/>
<path d="M 554.5 557.5 L 554.5 470 L 599.5 470 L 599.5 557.5" fill="none" stroke="#3d3d3d" stroke-width="1"/>
<path d="M 623.8 557.5 L 623.8 517.3 L 669.5 517.3 L 669.5 557.5" fill="none" stroke="#3d3d3d" stroke-width="1"/>
<line x1="436.7" y1="557.5" x2="436.7" y2="563.5" stroke="#3d3d3d" stroke-width="1"/>
<line x1="506" y1="557.5" x2="506" y2="563.5" stroke="#3d3d3d" stroke-width="1"/>
<line x1="576.5" y1="557.5" x2="576.5" y2="563.5" stroke="#3d3d3d" stroke-width="1"/>
<line x1="646" y1="557.5" x2="646" y2="563.5" stroke="#3d3d3d" stroke-width="1"/>
<line x1="436.7" y1="528.3" x2="436.7" y2="533.5" stroke="#3d3d3d" stroke-width="1"/>
<line x1="426.2" y1="528.3" x2="447.2" y2="528.3" stroke="#3d3d3d" stroke-width="1"/>
<line x1="426.2" y1="533.5" x2="447.2" y2="533.5" stroke="#3d3d3d" stroke-width="1"/>
<line x1="506" y1="521.2" x2="506" y2="526.5" stroke="#3d3d3d" stroke-width="1"/>
<line x1="494.8" y1="521.2" x2="517.2" y2="521.2" stroke="#3d3d3d" stroke-width="1"/>
<line x1="494.8" y1="526.5" x2="517.2" y2="526.5" stroke="#3d3d3d" stroke-width="1"/>
<line x1="576.5" y1="457.6" x2="576.5" y2="482.3" stroke="#3d3d3d" stroke-width="1"/>
<line x1="565.3" y1="457.6" x2="587.7" y2="457.6" stroke="#3d3d3d" stroke-width="1"/>
<line x1="565.3" y1="482.3" x2="587.7" y2="482.3" stroke="#3d3d3d" stroke-width="1"/>
<line x1="646" y1="508.1" x2="646" y2="525.1" stroke="#3d3d3d" stroke-width="1"/>
<line x1="634.9" y1="508.1" x2="657.1" y2="508.1" stroke="#3d3d3d" stroke-width="1"/>
<line x1="634.9" y1="525.1" x2="657.1" y2="525.1" stroke="#3d3d3d" stroke-width="1"/>
<line x1="436.7" y1="522.5" x2="506" y2="522.5" stroke="#1a1a1a" stroke-width="1.0"/>
<line x1="436.7" y1="527.8" x2="506" y2="541.5" stroke="#1a1a1a" stroke-width="1.0"/>
<line x1="436.7" y1="530.4" x2="506" y2="519.9" stroke="#1a1a1a" stroke-width="1.0"/>
<line x1="436.7" y1="534.4" x2="506" y2="529.9" stroke="#1a1a1a" stroke-width="1.0"/>
<line x1="436.7" y1="539.6" x2="506" y2="514.7" stroke="#1a1a1a" stroke-width="1.0"/>
<circle cx="436.7" cy="522.5" r="3.6" fill="#fff" stroke="#1a1a1a" stroke-width="1.1"/>
<circle cx="436.7" cy="527.8" r="3.6" fill="#fff" stroke="#1a1a1a" stroke-width="1.1"/>
<circle cx="436.7" cy="530.4" r="3.6" fill="#fff" stroke="#1a1a1a" stroke-width="1.1"/>
<circle cx="436.7" cy="534.4" r="3.6" fill="#fff" stroke="#1a1a1a" stroke-width="1.1"/>
<circle cx="436.7" cy="539.6" r="3.6" fill="#fff" stroke="#1a1a1a" stroke-width="1.1"/>
<circle cx="506" cy="514.7" r="3.6" fill="#fff" stroke="#e61f8f" stroke-width="1.1"/>
<circle cx="506" cy="519.9" r="3.6" fill="#fff" stroke="#e61f8f" stroke-width="1.1"/>
<circle cx="506" cy="522.5" r="3.6" fill="#fff" stroke="#e61f8f" stroke-width="1.1"/>
<circle cx="506" cy="529.9" r="3.6" fill="#fff" stroke="#e61f8f" stroke-width="1.1"/>
<circle cx="506" cy="541.5" r="3.6" fill="#fff" stroke="#e61f8f" stroke-width="1.1"/>
<line x1="576.5" y1="433.2" x2="646" y2="492" stroke="#1a1a1a" stroke-width="1.0"/>
<line x1="576.5" y1="437.3" x2="646" y2="511.1" stroke="#1a1a1a" stroke-width="1.0"/>
<line x1="576.5" y1="455.1" x2="646" y2="511.1" stroke="#1a1a1a" stroke-width="1.0"/>
<line x1="576.5" y1="464.5" x2="646" y2="521.3" stroke="#1a1a1a" stroke-width="1.0"/>
<line x1="576.5" y1="474" x2="646" y2="492" stroke="#1a1a1a" stroke-width="1.0"/>
<line x1="576.5" y1="503.7" x2="646" y2="558" stroke="#1a1a1a" stroke-width="1.0"/>
<line x1="576.5" y1="520.5" x2="646" y2="532" stroke="#1a1a1a" stroke-width="1.0"/>
<circle cx="576.5" cy="433.2" r="3.6" fill="#fff" stroke="#1a1a1a" stroke-width="1.1"/>
<circle cx="576.5" cy="437.3" r="3.6" fill="#fff" stroke="#1a1a1a" stroke-width="1.1"/>
<circle cx="576.5" cy="455.1" r="3.6" fill="#fff" stroke="#1a1a1a" stroke-width="1.1"/>
<circle cx="576.5" cy="464.5" r="3.6" fill="#fff" stroke="#1a1a1a" stroke-width="1.1"/>
<circle cx="576.5" cy="474" r="3.6" fill="#fff" stroke="#1a1a1a" stroke-width="1.1"/>
<circle cx="576.5" cy="503.7" r="3.6" fill="#fff" stroke="#1a1a1a" stroke-width="1.1"/>
<circle cx="576.5" cy="520.5" r="3.6" fill="#fff" stroke="#1a1a1a" stroke-width="1.1"/>
<circle cx="646" cy="492" r="3.6" fill="#fff" stroke="#e61f8f" stroke-width="1.1"/>
<circle cx="646" cy="511.1" r="3.6" fill="#fff" stroke="#e61f8f" stroke-width="1.1"/>
<circle cx="646" cy="521.3" r="3.6" fill="#fff" stroke="#e61f8f" stroke-width="1.1"/>
<circle cx="646" cy="532" r="3.6" fill="#fff" stroke="#e61f8f" stroke-width="1.1"/>
<circle cx="646" cy="557.5" r="3.6" fill="#fff" stroke="#e61f8f" stroke-width="1.1"/>
<polyline points="438.5,476.4 438.5,398.1 575.4,398.1 575.4,405" fill="none" stroke="#3d3d3d" stroke-width="1" stroke-linejoin="round"/>
<text x="504.8" y="393.6" font-size="12.4" text-anchor="middle" fill="#231f20">0.0002</text>
<polyline points="575.4,422.5 575.4,412.6 646.9,412.6 646.9,480.4" fill="none" stroke="#3d3d3d" stroke-width="1" stroke-linejoin="round"/>
<text x="611.15" y="408.6" font-size="12.4" text-anchor="middle" fill="#231f20">0.0019</text>
<polyline points="436.7,512 436.7,493.6 506,493.6 506,504.2" fill="none" stroke="#3d3d3d" stroke-width="1" stroke-linejoin="round"/>
<text x="473.1" y="490.2" font-size="12.4" text-anchor="middle" fill="#231f20">0.2262</text>
<text x="433.5" y="578.7" font-size="12" text-anchor="middle" fill="#231f20">Baseline</text>
<text x="501.5" y="579.4" font-size="12" text-anchor="middle" fill="#231f20">AP5</text>
<text x="579" y="578.7" font-size="12" text-anchor="middle" fill="#231f20">Baseline</text>
<text x="646" y="578.7" font-size="12" text-anchor="middle" fill="#231f20">AP5</text>
<line x1="432.5" y1="587.4" x2="499.5" y2="587.4" stroke="#777" stroke-width="1"/>
<line x1="576" y1="587.4" x2="643" y2="587.4" stroke="#777" stroke-width="1"/>
<text x="464.5" y="600.8" font-size="12" text-anchor="middle" fill="#231f20">iN</text>
<text x="610.7" y="600.6" font-size="12" text-anchor="middle" fill="#231f20">iN-H69</text>
<text transform="translate(362.5,472.6) rotate(-90)" font-size="11.7" text-anchor="middle" fill="#231f20">Spike number per burst</text>
<polyline points="13.7,823.8 14.22,823.43 14.75,823.88 15.27,824.69 15.8,823.22 16.32,822.9 16.85,823.76 17.38,823.11 17.9,822.81 18.43,822.91 18.95,822.64 19.48,822.96 20,823.6 20.5,823.22 21,823.24 21.5,824.27 22,823.27 22.5,823.77 23,823.09 23.5,823.5 24,822.81 24.5,823.35 25,822.87 25.5,824.48 26,824 26.5,824.06 27,823.22 27.5,823.79 28,824.76 28.5,822.88 29,824.4 29.5,823.5 30,823.59 30.5,824.29 31,823.5 31.5,823.11 32,823.21 32.5,823.46 33,823.96 33.5,822.4 34,822.6 34.5,823.63 35,823.65 35.5,823.8 36,823.8 36.6,823.59 37.2,823.46 37.8,823.8 38.3,823.8 38.3,622.3 38.6,700 38.8,716" fill="none" stroke="#111" stroke-width="1.1" stroke-linejoin="round"/>
<polygon points="48,652 48.2,647 54.3,647 54.3,790 52,796 49,795 47.6,790 45.1,722 45.1,705 46.3,698 47,677.5 48,653" fill="#333"/>
<rect x="50.2" y="652" width="1.2" height="128" fill="#8c8c8c"/>
<rect x="48.3" y="647" width="1.7" height="9" fill="#9a9a9a"/>
<polygon points="38.5,711.77 39,713.01 39.5,715.09 40,715.4 40.5,720.48 41,718.7 41.5,719.91 42,720.39 42.5,722.08 43,726.78 43.5,724.3 44,725.78 44.5,725.4 45,728.93 45.5,728.72 46,728.89 46.5,730.48 47,731.39 47.5,733.86 48,736.43 48,788.18 47.5,783.45 47,779.24 46.5,778.55 46,774.8 45.5,773.29 45,770.33 44.5,766.66 44,763.56 43.5,764.27 43,758.81 42.5,758.35 42,752.31 41.5,749.44 41,745.19 40.5,744.81 40,742.89 39.5,735.87 39,736.39 38.5,729.78" fill="#1c1c1c"/>
<polyline points="54.2,786 54.53,788.6 54.85,789.01 55.17,790.38 55.5,790 55.83,793.76 56.17,791.96 56.5,794 56.83,794.55 57.17,800.44 57.5,799 57.81,798.26 58.12,803.43 58.44,804.42 58.75,805 59.06,802.33 59.38,807.65 59.69,808.26 60,806 60.33,808.48 60.67,810.83 61,811 61.3,812.8 61.6,808.29 61.9,810.55 62.2,810.23 62.5,810 62.81,813.39 63.12,814.45 63.44,815.84 63.75,815 64.06,815.04 64.38,816.51 64.69,814.67 65,813 65.33,815.57 65.67,813.94 66,817 66.3,813.6 66.6,813.85 66.9,814.91 67.2,812.87 67.5,815 67.8,818.15 68.1,817.37 68.4,818.82 68.7,819.81 69,820 69.3,820.76 69.6,819.13 69.9,815.62 70.2,820.31 70.5,818 70.83,820.09 71.17,819.02 71.5,819.73 71.83,821.02 72.17,817.72 72.5,821 72.8,822.32 73.1,819.01 73.4,817.68 73.7,818.7 74,820 74.33,821.97 74.67,819.11 75,823.03 75.33,825.04 75.67,822.46 76,823 76.33,821.92 76.67,822.2 77,823.18 77.33,823.38 77.67,822.08 78,821 78.33,822.33 78.67,819.13 79,819.99 79.33,821.09 79.67,824.64 80,823.5 80.3,822.1 80.6,823.63 80.9,819.93 81.2,820.09 81.5,821.27 81.8,823.7 82.1,823.68 82.4,823.42 82.7,820.81 83,822 83.3,822.26 83.6,822.07 83.9,822.23 84.2,820.16 84.5,825.27 84.8,820.98 85.1,826.11 85.4,825.99 85.7,820.26 86,823.5 86.33,822.99 86.67,825.05 87,825.75 87.33,822.18 87.67,820.77 88,822 88.33,820.39 88.67,825.35 89,820.9 89.33,823.52 89.67,820.96 90,823.5 90.33,823.49 90.67,826.06 91,820.65 91.33,824.88 91.67,822.72 92,822.5 92.33,825.1 92.65,824.05 92.97,821.16 93.3,825.55 93.62,823.04 93.95,820.21 94.27,820.2 94.6,823.5" fill="none" stroke="#111" stroke-width="1.1" stroke-linejoin="round"/>
<polyline points="116.3,822.5 116.76,822.39 117.22,822.2 117.69,821.72 118.15,821.22 118.61,821.66 119.08,821.5 119.54,822.77 120,821.8 120.5,820.59 121,822.63 121.5,822.94 122,821.16 122.5,823.35 123,822.88 123.5,823.46 124,822.5 124.5,821.83 125,821.92 125.5,821.85 126,823.3 126.5,822.11 127,821.39 127.5,821.44 128,821.5 128.5,821 129,820.5 129.5,820.73 130,822.72 130.5,821.38 131,823.16 131.5,821.46 132,822.2 132.49,821.57 132.98,822.18 133.47,821.33 133.96,821.78 134.44,823.27 134.93,823.07 135.42,822.86 135.91,822.36 136.4,822 136.8,822 137.4,786 138.2,819.8 139.7,821.8 140.7,813.7 141.2,771 141.4,625.9 141.7,641 142,659" fill="none" stroke="#8cc63f" stroke-width="1.0" stroke-linejoin="round"/>
<polygon points="141.4,640 142.2,641 142.3,659 142.9,659 143,672.7 144.6,672.7 144.8,771.7 140.9,771.7 140.9,660" fill="#8cc63f"/>
<polyline points="144.8,771.5 145.3,766 145.75,768.32 146.2,768 146.6,768.74 147,766.82 147.4,766 147.6,772 146.4,778 145.3,788 145.85,783.65 146.4,777.9 146.9,778.16 147.4,782.04 147.9,783 148.4,786.84 148.9,791 149.45,798.01 150,803.4 150.5,807.96 151,811.6 151.5,812.47 152,814.7 152.4,813.06 152.8,815.67 153.2,812.91 153.6,813.81 154,813.7 154.53,814.53 155.07,815.72 155.6,817.7 156.03,818.91 156.46,820.11 156.89,818.26 157.31,819.97 157.74,819.28 158.17,820.54 158.6,820.8 159.02,820.66 159.44,820.14 159.86,820.32 160.28,820.67 160.7,821.8 161.14,822.81 161.59,821.22 162.03,820.05 162.47,821.96 162.91,821.96 163.36,819.93 163.8,819.8 164.23,818.79 164.66,819.1 165.09,818.92 165.51,819.87 165.94,819.21 166.37,819.82 166.8,820.8 167.26,820.17 167.71,821.31 168.17,822.47 168.63,822.17 169.09,821.24 169.54,821.38 170,821.8 170.42,821.89 170.83,821.44 171.25,821.33 171.67,820.47 172.08,821.17 172.5,823.4 172.92,820.72 173.33,821.94 173.75,822.36 174.17,823.13 174.58,821.07 175,822 175.41,821.21 175.82,821.08 176.24,821.5 176.65,821.59 177.06,823.16 177.47,822.76 177.88,822.78 178.29,820 178.71,819.97 179.12,822.08 179.53,822.62 179.94,821.21 180.35,821.51 180.76,819.58 181.18,820.77 181.59,822.42 182,821 182.41,822.1 182.82,822.26 183.24,822.69 183.65,820.43 184.06,820.04 184.47,820.25 184.88,821.48 185.29,822.05 185.71,822.94 186.12,822.3 186.53,822.12 186.94,822.55 187.35,821.63 187.76,821.99 188.18,820.41 188.59,822.84 189,822 189.4,821.09 189.8,823.24 190.2,822.32 190.6,821.17 191,820.56 191.4,820.91 191.8,822.09 192.2,822.24 192.6,820.31 193,820.13 193.4,821.53 193.8,821.67 194.2,820.99 194.6,820.42 195,821.57 195.4,819.63 195.8,820.51 196.2,820.97 196.6,822.52 197,821" fill="none" stroke="#8cc63f" stroke-width="1.05" stroke-linejoin="round"/>
<polyline points="141.1,771 140.6,790 140.3,812 140.7,820" fill="none" stroke="#8cc63f" stroke-width="0.8"/>
<text x="98.8" y="700.7" font-size="12" text-anchor="middle" fill="#231f20">iN-H69</text>
<line x1="59.2" y1="718.8" x2="93.7" y2="718.8" stroke="#111" stroke-width="1.5"/>
<line x1="95.5" y1="710.2" x2="92.5" y2="729.1" stroke="#111" stroke-width="1.4"/>
<line x1="103" y1="711.3" x2="99.9" y2="730.5" stroke="#8cc63f" stroke-width="1.4"/>
<line x1="101.6" y1="719.5" x2="135.9" y2="719.5" stroke="#8cc63f" stroke-width="1.5"/>
<polyline points="82.3,737.9 82.3,787 122.8,787" fill="none" stroke="#111" stroke-width="1.5" stroke-linejoin="round"/>
<text x="102.3" y="799.6" font-size="12" text-anchor="middle" fill="#231f20">5 s</text>
<text transform="translate(76.5,763.5) rotate(-90)" font-size="11.7" text-anchor="middle" fill="#231f20">20 mV</text>
<text x="53.7" y="842.5" font-size="12" text-anchor="middle" fill="#231f20">Baseline</text>
<text x="153.9" y="842.5" font-size="12" text-anchor="middle" fill="#8cc63f">Memantine</text>
<line x1="237.5" y1="821" x2="237.5" y2="633.2" stroke="#3d3d3d" stroke-width="1"/>
<line x1="229.9" y1="820.5" x2="237.5" y2="820.5" stroke="#3d3d3d" stroke-width="1"/>
<text x="226.5" y="825.5" font-size="12" text-anchor="end" fill="#231f20">0.0</text>
<line x1="229.9" y1="773.67" x2="237.5" y2="773.67" stroke="#3d3d3d" stroke-width="1"/>
<text x="226.5" y="778.67" font-size="12" text-anchor="end" fill="#231f20">0.5</text>
<line x1="229.9" y1="726.85" x2="237.5" y2="726.85" stroke="#3d3d3d" stroke-width="1"/>
<text x="226.5" y="731.85" font-size="12" text-anchor="end" fill="#231f20">1.0</text>
<line x1="229.9" y1="680.02" x2="237.5" y2="680.02" stroke="#3d3d3d" stroke-width="1"/>
<text x="226.5" y="685.02" font-size="12" text-anchor="end" fill="#231f20">1.5</text>
<line x1="229.9" y1="633.2" x2="237.5" y2="633.2" stroke="#3d3d3d" stroke-width="1"/>
<text x="226.5" y="638.2" font-size="12" text-anchor="end" fill="#231f20">2.0</text>
<line x1="229.9" y1="820.5" x2="362.7" y2="820.5" stroke="#3d3d3d" stroke-width="1"/>
<line x1="272.8" y1="820.5" x2="272.8" y2="828.3" stroke="#3d3d3d" stroke-width="1"/>
<line x1="326.4" y1="820.5" x2="326.4" y2="828.3" stroke="#3d3d3d" stroke-width="1"/>
<line x1="272.8" y1="677.2" x2="326.4" y2="787.9" stroke="#1a1a1a" stroke-width="1.0"/>
<line x1="272.8" y1="730.9" x2="326.4" y2="769.7" stroke="#1a1a1a" stroke-width="1.0"/>
<line x1="272.8" y1="749.1" x2="326.4" y2="794.6" stroke="#1a1a1a" stroke-width="1.0"/>
<line x1="272.8" y1="772.4" x2="326.4" y2="789.7" stroke="#1a1a1a" stroke-width="1.0"/>
<line x1="272.8" y1="776" x2="326.4" y2="787.9" stroke="#1a1a1a" stroke-width="1.0"/>
<line x1="272.8" y1="783" x2="326.4" y2="809.7" stroke="#1a1a1a" stroke-width="1.0"/>
<line x1="272.8" y1="796.1" x2="326.4" y2="810.6" stroke="#1a1a1a" stroke-width="1.0"/>
<line x1="272.8" y1="815.2" x2="326.4" y2="815.5" stroke="#1a1a1a" stroke-width="1.0"/>
<line x1="272.8" y1="816.1" x2="326.4" y2="817.6" stroke="#1a1a1a" stroke-width="1.0"/>
<circle cx="272.8" cy="677.2" r="3.6" fill="#fff" stroke="#1a1a1a" stroke-width="1.1"/>
<circle cx="272.8" cy="730.9" r="3.6" fill="#fff" stroke="#1a1a1a" stroke-width="1.1"/>
<circle cx="272.8" cy="749.1" r="3.6" fill="#fff" stroke="#1a1a1a" stroke-width="1.1"/>
<circle cx="272.8" cy="772.4" r="3.6" fill="#fff" stroke="#1a1a1a" stroke-width="1.1"/>
<circle cx="272.8" cy="776" r="3.6" fill="#fff" stroke="#1a1a1a" stroke-width="1.1"/>
<circle cx="272.8" cy="783" r="3.6" fill="#fff" stroke="#1a1a1a" stroke-width="1.1"/>
<circle cx="272.8" cy="796.1" r="3.6" fill="#fff" stroke="#1a1a1a" stroke-width="1.1"/>
<circle cx="272.8" cy="815.2" r="3.6" fill="#fff" stroke="#1a1a1a" stroke-width="1.1"/>
<circle cx="272.8" cy="816.1" r="3.6" fill="#fff" stroke="#1a1a1a" stroke-width="1.1"/>
<circle cx="326.4" cy="769.7" r="3.6" fill="#fff" stroke="#8cc63f" stroke-width="1.1"/>
<circle cx="326.4" cy="787.9" r="3.6" fill="#fff" stroke="#8cc63f" stroke-width="1.1"/>
<circle cx="326.4" cy="789.7" r="3.6" fill="#fff" stroke="#8cc63f" stroke-width="1.1"/>
<circle cx="326.4" cy="794.6" r="3.6" fill="#fff" stroke="#8cc63f" stroke-width="1.1"/>
<circle cx="326.4" cy="801.2" r="3.6" fill="#fff" stroke="#8cc63f" stroke-width="1.1"/>
<circle cx="326.4" cy="809.7" r="3.6" fill="#fff" stroke="#8cc63f" stroke-width="1.1"/>
<circle cx="326.4" cy="810.6" r="3.6" fill="#fff" stroke="#8cc63f" stroke-width="1.1"/>
<circle cx="326.4" cy="817.6" r="3.6" fill="#fff" stroke="#8cc63f" stroke-width="1.1"/>
<polyline points="272.8,665.1 272.8,654.9 326.4,654.9 326.4,758" fill="none" stroke="#3d3d3d" stroke-width="1" stroke-linejoin="round"/>
<text x="299" y="651.4" font-size="12.4" text-anchor="middle" fill="#231f20">0.0284</text>
<text transform="translate(200,727.4) rotate(-90)" font-size="11.7" text-anchor="middle" fill="#231f20">AP frequency (Hz)</text>
<text transform="translate(278.1,833.9) rotate(-45)" font-size="11.7" text-anchor="end" fill="#231f20">Baseline</text>
<text transform="translate(331.7,833.9) rotate(-45)" font-size="11.7" text-anchor="end" fill="#8cc63f">Memantine</text>
<line x1="392.5" y1="821" x2="392.5" y2="632.7" stroke="#3d3d3d" stroke-width="1"/>
<line x1="384.9" y1="820.5" x2="392.5" y2="820.5" stroke="#3d3d3d" stroke-width="1"/>
<text x="382.3" y="825.5" font-size="12" text-anchor="end" fill="#231f20">0</text>
<line x1="384.9" y1="773.55" x2="392.5" y2="773.55" stroke="#3d3d3d" stroke-width="1"/>
<text x="382.3" y="778.55" font-size="12" text-anchor="end" fill="#231f20">5</text>
<line x1="384.9" y1="726.6" x2="392.5" y2="726.6" stroke="#3d3d3d" stroke-width="1"/>
<text x="382.3" y="731.6" font-size="12" text-anchor="end" fill="#231f20">10</text>
<line x1="384.9" y1="679.65" x2="392.5" y2="679.65" stroke="#3d3d3d" stroke-width="1"/>
<text x="382.3" y="684.65" font-size="12" text-anchor="end" fill="#231f20">15</text>
<line x1="384.9" y1="632.7" x2="392.5" y2="632.7" stroke="#3d3d3d" stroke-width="1"/>
<text x="382.3" y="637.7" font-size="12" text-anchor="end" fill="#231f20">20</text>
<line x1="384.9" y1="820.5" x2="518.4" y2="820.5" stroke="#3d3d3d" stroke-width="1"/>
<line x1="428.2" y1="820.5" x2="428.2" y2="828.3" stroke="#3d3d3d" stroke-width="1"/>
<line x1="481.6" y1="820.5" x2="481.6" y2="828.3" stroke="#3d3d3d" stroke-width="1"/>
<line x1="428.2" y1="658.7" x2="481.6" y2="691.4" stroke="#1a1a1a" stroke-width="1.0"/>
<line x1="428.2" y1="737.4" x2="481.6" y2="759.5" stroke="#1a1a1a" stroke-width="1.0"/>
<line x1="428.2" y1="757.7" x2="481.6" y2="781.1" stroke="#1a1a1a" stroke-width="1.0"/>
<line x1="428.2" y1="760.5" x2="481.6" y2="784.4" stroke="#1a1a1a" stroke-width="1.0"/>
<line x1="428.2" y1="765.1" x2="481.6" y2="769.7" stroke="#1a1a1a" stroke-width="1.0"/>
<line x1="428.2" y1="781.6" x2="481.6" y2="781.1" stroke="#1a1a1a" stroke-width="1.0"/>
<line x1="428.2" y1="789" x2="481.6" y2="806.1" stroke="#1a1a1a" stroke-width="1.0"/>
<line x1="428.2" y1="801.9" x2="481.6" y2="784.4" stroke="#1a1a1a" stroke-width="1.0"/>
<circle cx="428.2" cy="658.7" r="3.6" fill="#fff" stroke="#1a1a1a" stroke-width="1.1"/>
<circle cx="428.2" cy="737.4" r="3.6" fill="#fff" stroke="#1a1a1a" stroke-width="1.1"/>
<circle cx="428.2" cy="757.7" r="3.6" fill="#fff" stroke="#1a1a1a" stroke-width="1.1"/>
<circle cx="428.2" cy="760.5" r="3.6" fill="#fff" stroke="#1a1a1a" stroke-width="1.1"/>
<circle cx="428.2" cy="765.1" r="3.6" fill="#fff" stroke="#1a1a1a" stroke-width="1.1"/>
<circle cx="428.2" cy="781.6" r="3.6" fill="#fff" stroke="#1a1a1a" stroke-width="1.1"/>
<circle cx="428.2" cy="789" r="3.6" fill="#fff" stroke="#1a1a1a" stroke-width="1.1"/>
<circle cx="428.2" cy="801.9" r="3.6" fill="#fff" stroke="#1a1a1a" stroke-width="1.1"/>
<circle cx="481.6" cy="691.4" r="3.6" fill="#fff" stroke="#8cc63f" stroke-width="1.1"/>
<circle cx="481.6" cy="759.5" r="3.6" fill="#fff" stroke="#8cc63f" stroke-width="1.1"/>
<circle cx="481.6" cy="769.7" r="3.6" fill="#fff" stroke="#8cc63f" stroke-width="1.1"/>
<circle cx="481.6" cy="781.1" r="3.6" fill="#fff" stroke="#8cc63f" stroke-width="1.1"/>
<circle cx="481.6" cy="784.4" r="3.6" fill="#fff" stroke="#8cc63f" stroke-width="1.1"/>
<circle cx="481.6" cy="788" r="3.6" fill="#fff" stroke="#8cc63f" stroke-width="1.1"/>
<circle cx="481.6" cy="806.1" r="3.6" fill="#fff" stroke="#8cc63f" stroke-width="1.1"/>
<polyline points="428.2,647.2 428.2,636.3 481.6,636.3 481.6,680.1" fill="none" stroke="#3d3d3d" stroke-width="1" stroke-linejoin="round"/>
<text x="453.7" y="633" font-size="12.4" text-anchor="middle" fill="#231f20">0.0277</text>
<text transform="translate(364.6,728.9) rotate(-90)" font-size="11.7" text-anchor="middle" fill="#231f20">Spike number per burst</text>
<text transform="translate(433.5,833.9) rotate(-45)" font-size="11.7" text-anchor="end" fill="#231f20">Baseline</text>
<text transform="translate(486.9,833.9) rotate(-45)" font-size="11.7" text-anchor="end" fill="#8cc63f">Memantine</text>
<line x1="555.5" y1="820.5" x2="555.5" y2="633" stroke="#3d3d3d" stroke-width="1"/>
<line x1="547.9" y1="820" x2="555.5" y2="820" stroke="#3d3d3d" stroke-width="1"/>
<text x="545.3" y="825" font-size="12" text-anchor="end" fill="#231f20">0</text>
<line x1="547.9" y1="782.6" x2="555.5" y2="782.6" stroke="#3d3d3d" stroke-width="1"/>
<text x="545.3" y="787.6" font-size="12" text-anchor="end" fill="#231f20">5</text>
<line x1="547.9" y1="745.2" x2="555.5" y2="745.2" stroke="#3d3d3d" stroke-width="1"/>
<text x="545.3" y="750.2" font-size="12" text-anchor="end" fill="#231f20">10</text>
<line x1="547.9" y1="707.8" x2="555.5" y2="707.8" stroke="#3d3d3d" stroke-width="1"/>
<text x="545.3" y="712.8" font-size="12" text-anchor="end" fill="#231f20">15</text>
<line x1="547.9" y1="670.4" x2="555.5" y2="670.4" stroke="#3d3d3d" stroke-width="1"/>
<text x="545.3" y="675.4" font-size="12" text-anchor="end" fill="#231f20">20</text>
<line x1="547.9" y1="633" x2="555.5" y2="633" stroke="#3d3d3d" stroke-width="1"/>
<text x="545.3" y="638" font-size="12" text-anchor="end" fill="#231f20">25</text>
<line x1="547.9" y1="820" x2="680.4" y2="820" stroke="#3d3d3d" stroke-width="1"/>
<line x1="590.9" y1="820" x2="590.9" y2="827.8" stroke="#3d3d3d" stroke-width="1"/>
<line x1="644" y1="820" x2="644" y2="827.8" stroke="#3d3d3d" stroke-width="1"/>
<line x1="590.9" y1="662.6" x2="644" y2="729.9" stroke="#1a1a1a" stroke-width="1.0"/>
<line x1="590.9" y1="670.5" x2="644" y2="767.7" stroke="#1a1a1a" stroke-width="1.0"/>
<line x1="590.9" y1="708.1" x2="644" y2="782.3" stroke="#1a1a1a" stroke-width="1.0"/>
<line x1="590.9" y1="723.2" x2="644" y2="729.9" stroke="#1a1a1a" stroke-width="1.0"/>
<line x1="590.9" y1="723.2" x2="644" y2="738.1" stroke="#1a1a1a" stroke-width="1.0"/>
<line x1="590.9" y1="738.1" x2="644" y2="782.3" stroke="#1a1a1a" stroke-width="1.0"/>
<line x1="590.9" y1="767.7" x2="644" y2="782.3" stroke="#1a1a1a" stroke-width="1.0"/>
<line x1="590.9" y1="789.9" x2="644" y2="797.7" stroke="#1a1a1a" stroke-width="1.0"/>
<line x1="590.9" y1="797.7" x2="644" y2="805.5" stroke="#1a1a1a" stroke-width="1.0"/>
<circle cx="590.9" cy="662.6" r="3.6" fill="#fff" stroke="#1a1a1a" stroke-width="1.1"/>
<circle cx="590.9" cy="670.5" r="3.6" fill="#fff" stroke="#1a1a1a" stroke-width="1.1"/>
<circle cx="590.9" cy="708.1" r="3.6" fill="#fff" stroke="#1a1a1a" stroke-width="1.1"/>
<circle cx="590.9" cy="723.2" r="3.6" fill="#fff" stroke="#1a1a1a" stroke-width="1.1"/>
<circle cx="590.9" cy="738.1" r="3.6" fill="#fff" stroke="#1a1a1a" stroke-width="1.1"/>
<circle cx="590.9" cy="767.7" r="3.6" fill="#fff" stroke="#1a1a1a" stroke-width="1.1"/>
<circle cx="590.9" cy="789.9" r="3.6" fill="#fff" stroke="#1a1a1a" stroke-width="1.1"/>
<circle cx="590.9" cy="797.7" r="3.6" fill="#fff" stroke="#1a1a1a" stroke-width="1.1"/>
<circle cx="644" cy="729.9" r="3.6" fill="#fff" stroke="#8cc63f" stroke-width="1.1"/>
<circle cx="644" cy="738.1" r="3.6" fill="#fff" stroke="#8cc63f" stroke-width="1.1"/>
<circle cx="644" cy="767.7" r="3.6" fill="#fff" stroke="#8cc63f" stroke-width="1.1"/>
<circle cx="644" cy="782.3" r="3.6" fill="#fff" stroke="#8cc63f" stroke-width="1.1"/>
<circle cx="644" cy="790.5" r="3.6" fill="#fff" stroke="#8cc63f" stroke-width="1.1"/>
<circle cx="644" cy="797.7" r="3.6" fill="#fff" stroke="#8cc63f" stroke-width="1.1"/>
<circle cx="644" cy="805.5" r="3.6" fill="#fff" stroke="#8cc63f" stroke-width="1.1"/>
<polyline points="590.9,651.9 590.9,641 644,641 644,718" fill="none" stroke="#3d3d3d" stroke-width="1" stroke-linejoin="round"/>
<text x="617.45" y="637" font-size="12.4" text-anchor="middle" fill="#231f20">0.0126</text>
<text transform="translate(526.5,722.7) rotate(-90)" font-size="11.7" text-anchor="middle" fill="#231f20">Burst number</text>
<text transform="translate(596.2,833.4) rotate(-45)" font-size="11.7" text-anchor="end" fill="#231f20">Baseline</text>
<text transform="translate(649.3,833.4) rotate(-45)" font-size="11.7" text-anchor="end" fill="#8cc63f">Memantine</text>
</svg>
</body></html>
